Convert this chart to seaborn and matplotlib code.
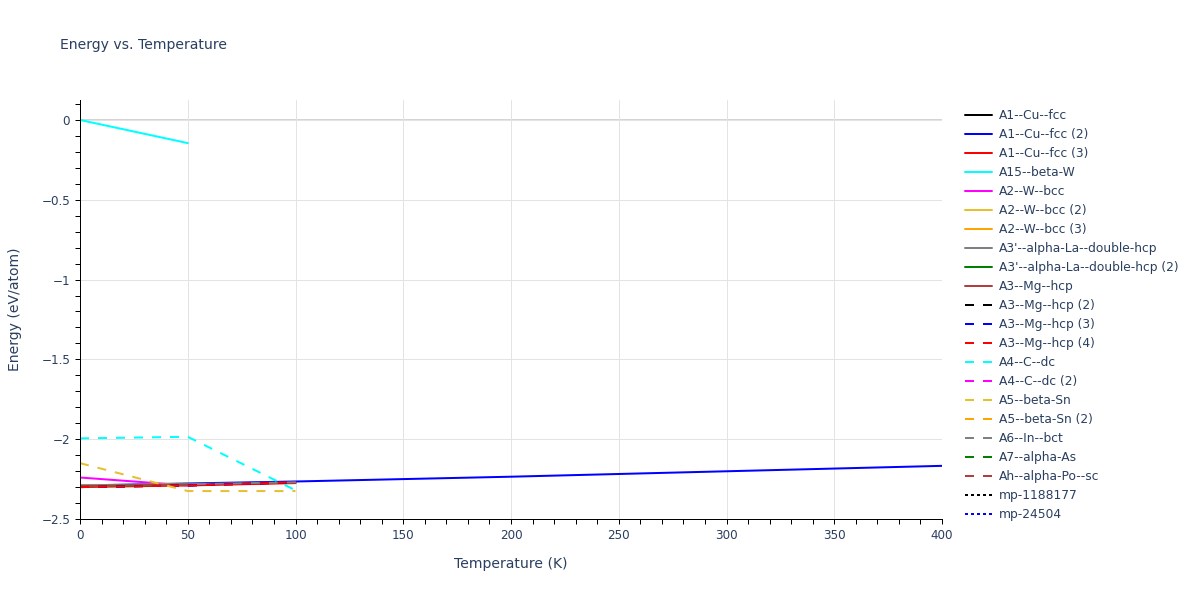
import numpy as np
import pandas as pd
import matplotlib
matplotlib.use("Agg")
import matplotlib.pyplot as plt
from matplotlib.ticker import MultipleLocator, FuncFormatter
import seaborn as sns

# series names, styles and values
names = ["A1--Cu--fcc", "A1--Cu--fcc (2)", "A1--Cu--fcc (3)", "A15--beta-W",
         "A2--W--bcc", "A2--W--bcc (2)", "A2--W--bcc (3)",
         "A3'--alpha-La--double-hcp", "A3'--alpha-La--double-hcp (2)",
         "A3--Mg--hcp", "A3--Mg--hcp (2)", "A3--Mg--hcp (3)", "A3--Mg--hcp (4)",
         "A4--C--dc", "A4--C--dc (2)", "A5--beta-Sn", "A5--beta-Sn (2)",
         "A6--In--bct", "A7--alpha-As", "Ah--alpha-Po--sc",
         "mp-1188177", "mp-24504"]
colors = ["black", "blue", "red", "cyan", "magenta", "#e6c02e", "orange",
          "gray", "green", "#b04040",
          "black", "blue", "red", "cyan", "magenta", "#e6c02e", "orange",
          "gray", "green", "#b04040",
          "black", "blue"]
styles = ["solid"] * 10 + ["dash"] * 10 + ["dot"] * 2

temps = [
    [0, 50, 100],
    [0, 100, 200, 300, 400],
    [0, 50, 100],
    [0, 50],
    [0, 50],
    [0, 50],
    [0, 50],
    [0, 50, 100],
    [0, 50],
    [0, 50],
    [0, 50, 100],
    [0, 50, 100],
    [0, 50, 100],
    [0, 50, 100],
    [0],
    [0, 50, 100],
    [0],
    [0],
    [0],
    [0],
    [0],
    [0],
]
energies = [
    [-2.295, -2.285, -2.272],
    [-2.290, -2.265, -2.235, -2.201, -2.167],
    [-2.300, -2.290, -2.275],
    [0.0, -0.145],
    [-2.240, -2.290],
    [-2.292, -2.282],
    [-2.292, -2.282],
    [-2.292, -2.282, -2.270],
    [-2.295, -2.285],
    [-2.295, -2.285],
    [-2.300, -2.290, -2.270],
    [-2.300, -2.290, -2.270],
    [-2.300, -2.290, -2.270],
    [-1.995, -1.985, -2.320],
    [-2.290],
    [-2.150, -2.325, -2.325],
    [-2.292],
    [-2.293],
    [-2.295],
    [-2.295],
    [-2.295],
    [-2.292],
]

txt = "#2a3f5f"
px = 72 / 100  # points per pixel at dpi 100

sns.set_style("white")
plt.rcParams["font.family"] = ["DejaVu Sans"]

fig = plt.figure(figsize=(12, 6), dpi=100)
ax = fig.add_axes([80 / 1200, 1 - 519 / 600, 862 / 1200, 419 / 600])

dash_map = {"dash": (4.5, 4.5), "dot": (1.5, 1.5)}

ax.axhline(0, color="#d4d4d4", lw=2 * px, zorder=0)

for name, c, s, t, e in zip(names, colors, styles, temps, energies):
    df = pd.DataFrame({"T": t, "E": e})
    sns.lineplot(data=df, x="T", y="E", color=c, lw=2 * px, ax=ax, label=name)
    if s != "solid":
        ax.lines[-1].set_dashes(dash_map[s])

ax.set_xlim(0, 400)
ax.set_ylim(-2.5, 0.125)
ax.xaxis.set_major_locator(MultipleLocator(50))
ax.xaxis.set_minor_locator(MultipleLocator(10))
ax.yaxis.set_major_locator(MultipleLocator(0.5))
ax.yaxis.set_minor_locator(MultipleLocator(0.1))
ax.yaxis.set_major_formatter(FuncFormatter(lambda v, p: f"{v:g}".replace("-", "\u2212")))
ax.grid(True, which="major", color="#e3e3e3", lw=1 * px)
ax.tick_params(which="both", direction="out", length=5 * px, width=1 * px, color="black",
               labelsize=12 * px, labelcolor=txt, bottom=True, left=True)
for side in ["top", "right"]:
    ax.spines[side].set_visible(False)
for side in ["left", "bottom"]:
    ax.spines[side].set_color("black")
    ax.spines[side].set_linewidth(1 * px)

ax.set_xlabel("Temperature (K)", fontsize=14 * px, color=txt, labelpad=11)
ax.set_ylabel("Energy (eV/atom)", fontsize=14 * px, color=txt, labelpad=14)
fig.text(60 / 1200, 1 - 45 / 600, "Energy vs. Temperature", fontsize=14 * px,
         color=txt, va="center", ha="left")

handles, labels = ax.get_legend_handles_labels()
ax.get_legend().remove()
leg = fig.legend(handles, labels, loc="upper left", bbox_to_anchor=(960 / 1200, 1 - 104 / 600),
                 frameon=False, fontsize=12.3 * px, handlelength=2.2, handletextpad=0.6,
                 labelspacing=0.49, borderaxespad=0)
for t in leg.get_texts():
    t.set_color(txt)

fig.savefig("out.png", dpi=100)
